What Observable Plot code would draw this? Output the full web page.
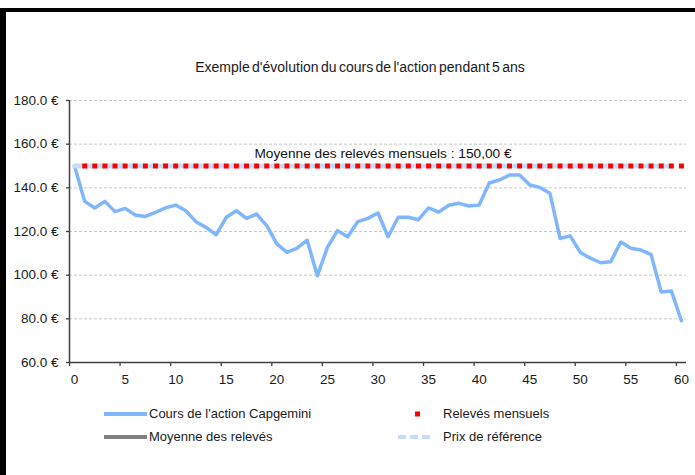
<!DOCTYPE html>
<html>
<head>
<meta charset="utf-8">
<script src="https://cdn.jsdelivr.net/npm/d3@7"></script>
<script src="https://cdn.jsdelivr.net/npm/@observablehq/plot@0.6"></script>
<style>
  body { margin: 0; background: #fff; }
  #wrap { position: relative; width: 695px; height: 475px; overflow: hidden; background: #fff;
          font-family: "Liberation Sans", Arial, sans-serif; color: #1a1a1a; }
  #wrap svg { position: absolute; left: 0; top: 0; }
  .abs { position: absolute; }
  .title { left: 0; width: 720px; top: 59px; text-align: center; font-size: 14px; word-spacing: -1.5px; }
  .leg { font-size: 13px; line-height: 16px; white-space: nowrap; }
</style>
</head>
<body>
<div id="wrap">
  <div class="abs" style="left:0;top:8px;width:695px;height:4px;background:#000"></div>
  <div class="abs" style="left:0;top:8px;width:6px;height:467px;background:#000"></div>
  <div class="abs title">Exemple d'évolution du cours de l'action pendant 5 ans</div>
</div>
<script>
// ---- data ----
const mois = [0,1,2,3,4,5,6,7,8,9,10,11,12,13,14,15,16,17,18,19,20,21,22,23,24,25,26,27,28,29,30,
              31,32,33,34,35,36,37,38,39,40,41,42,43,44,45,46,47,48,49,50,51,52,53,54,55,56,57,58,59,60];
const cours = [150.0,133.8,130.8,133.8,129.1,130.6,127.6,126.9,128.8,130.8,132.1,129.5,124.5,121.9,118.5,
               126.5,129.5,126.0,128.0,122.7,114.3,110.4,112.4,116.0,99.7,112.7,120.4,117.6,124.5,126.0,
               128.5,117.6,126.5,126.5,125.4,130.8,128.9,132.0,132.9,131.7,132.1,142.2,143.6,145.9,145.9,
               141.3,140.2,137.5,116.8,118.0,110.4,107.8,105.7,106.1,115.2,112.3,111.5,109.4,92.3,92.8,79.1];
const moisReleves = [1,2,3,4,5,6,7,8,9,10,11,12,13,14,15,16,17,18,19,20,21,22,23,24,25,26,27,28,29,30,
                     31,32,33,34,35,36,37,38,39,40,41,42,43,44,45,46,47,48,49,50,51,52,53,54,55,56,57,58,59,60];
const releves = [150,150,150,150,150,150,150,150,150,150,150,150,150,150,150,150,150,150,150,150,
                 150,150,150,150,150,150,150,150,150,150,150,150,150,150,150,150,150,150,150,150,
                 150,150,150,150,150,150,150,150,150,150,150,150,150,150,150,150,150,150,150,150];
const moisMoyenne = [0,1,2,3,4,5,6,7,8,9,10,11,12,13,14,15,16,17,18,19,20,21,22,23,24,25,26,27,28,29,
                     30,31,32,33,34,35,36,37,38,39,40,41,42,43,44,45,46,47,48,49,50,51,52,53,54,55,56,57,58,59];
const moyenne = [150,150,150,150,150,150,150,150,150,150,150,150,150,150,150,150,150,150,150,150,
                 150,150,150,150,150,150,150,150,150,150,150,150,150,150,150,150,150,150,150,150,
                 150,150,150,150,150,150,150,150,150,150,150,150,150,150,150,150,150,150,150,150];
const prixReference = [150,150,150,150,150,150,150,150,150,150,150,150,150,150,150,150,150,150,150,150,
                       150,150,150,150,150,150,150,150,150,150,150,150,150,150,150,150,150,150,150,150,
                       150,150,150,150,150,150,150,150,150,150,150,150,150,150,150,150,150,150,150,150];
const xTicks = [0,5,10,15,20,25,30,35,40,45,50,55,60];
const yTicks = [60,80,100,120,140,160,180];
const gridTicks = [80,100,120,140,160,180];
const annotation = "Moyenne des relevés mensuels : 150,00 €";
const series = ["Cours de l'action Capgemini", "Relevés mensuels", "Moyenne des relevés", "Prix de référence"];
const colors = {cours: "#80b6fb", releves: "#ff0000", moyenne: "#808080", prix: "#c4defa"};

const coursData = mois.map((m, i) => ({m, v: cours[i]}));
const relevesData = moisReleves.map((m, i) => ({m, v: releves[i]}));
const moyenneData = moisMoyenne.map((m, i) => ({m, v: moyenne[i]}));
const prixData = moisMoyenne.map((m, i) => ({m, v: prixReference[i]}));

const axisColor = "#404040";
const chart = Plot.plot({
  width: 695, height: 475,
  marginLeft: 69, marginRight: 9, marginTop: 100, marginBottom: 113,
  x: {domain: [-0.5, 60.5], axis: null, label: null},
  y: {domain: [60, 180], axis: null, label: null},
  style: {fontFamily: "'Liberation Sans', Arial, sans-serif", fontSize: "13.5px", color: "#1a1a1a", background: "transparent"},
  marks: [
    Plot.ruleY(gridTicks, {stroke: "#c8c8c8", strokeDasharray: "3,2", strokeWidth: 1}),
    Plot.axisY({ticks: yTicks, tickSize: 3, tickPadding: 8, stroke: axisColor, strokeWidth: 1.3, label: null,
                tickFormat: d => d.toFixed(1) + " €"}),
    Plot.axisX({ticks: xTicks.map(t => t - 0.5), tickSize: 4, stroke: axisColor, strokeWidth: 1.3, label: null, tickFormat: () => ""}),
    Plot.axisX({ticks: xTicks, tickSize: 0, tickPadding: 11.5, label: null, tickFormat: d => String(d)}),
    Plot.ruleX([-0.5], {stroke: axisColor, strokeWidth: 1.5}),
    Plot.ruleY([60], {stroke: axisColor, strokeWidth: 1.5}),
    Plot.line(coursData, {x: "m", y: "v", stroke: colors.cours, strokeWidth: 3.5, strokeLinejoin: "round"}),
    Plot.line(moyenneData, {x: "m", y: "v", stroke: colors.moyenne, strokeWidth: 2.5}),
    Plot.line(prixData, {x: "m", y: "v", stroke: colors.prix, strokeWidth: 5, strokeDasharray: "7,4"}),
    Plot.dot(relevesData, {x: "m", y: "v", symbol: "square", r: 2.8, fill: colors.releves, stroke: "none"}),
    Plot.text([annotation], {x: 30.5, y: 150, dy: -12, text: d => d, fontSize: 13.7, fill: "#111"})
  ]
});
const wrap = document.getElementById("wrap");
wrap.insertBefore(chart, wrap.children[0]);

// ---- legend ----
function addLegend(sampleHtml, label, left, textLeft, cy) {
  const s = document.createElement("div");
  s.className = "abs";
  s.style.left = left + "px"; s.style.top = (cy - 3) + "px";
  s.innerHTML = sampleHtml;
  wrap.appendChild(s);
  const t = document.createElement("div");
  t.className = "abs leg";
  t.style.left = textLeft + "px"; t.style.top = (cy - 8) + "px";
  t.textContent = label;
  wrap.appendChild(t);
}
addLegend(`<svg width="44" height="6"><line x1="0" x2="43" y1="3" y2="3" stroke="${colors.cours}" stroke-width="4"/></svg>`, series[0], 104, 149, 414);
addLegend(`<svg width="8" height="6"><rect x="1" y="0.5" width="5" height="5" fill="${colors.releves}"/></svg>`, series[1], 414, 443, 414);
addLegend(`<svg width="44" height="6"><line x1="0" x2="43" y1="3" y2="3" stroke="${colors.moyenne}" stroke-width="4"/></svg>`, series[2], 104, 149, 437);
addLegend(`<svg width="40" height="6"><line x1="0" x2="36" y1="3" y2="3" stroke="${colors.prix}" stroke-width="4" stroke-dasharray="8,4"/></svg>`, series[3], 398, 443, 437);
</script>
</body>
</html>
